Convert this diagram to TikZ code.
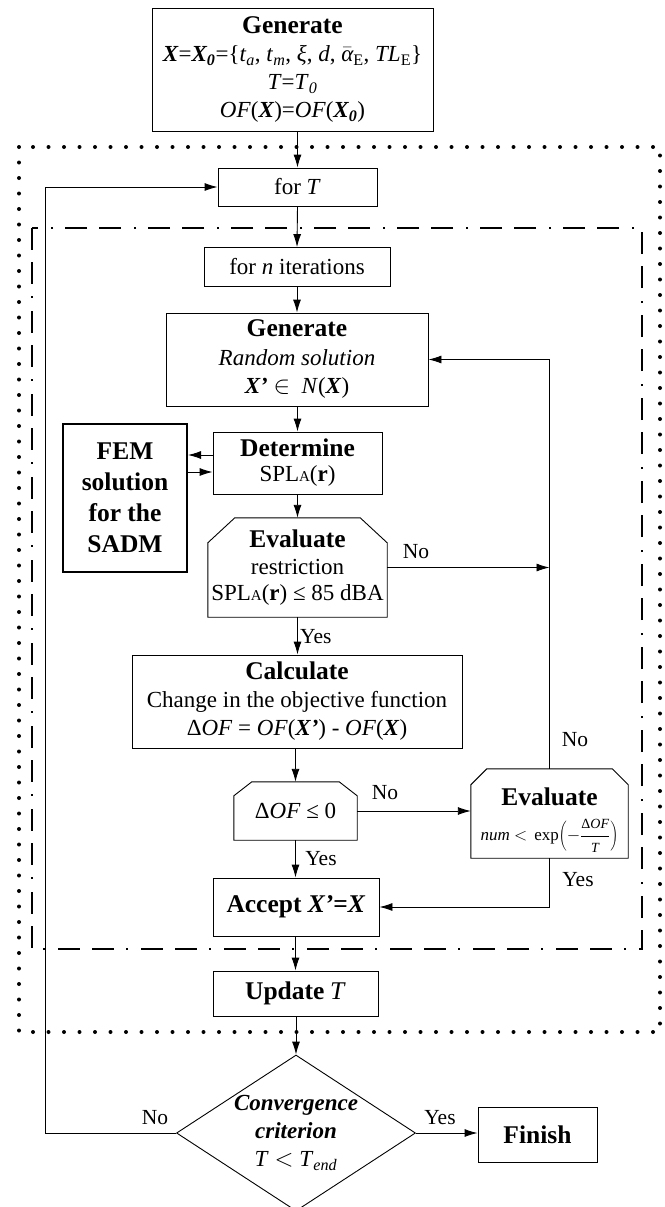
\documentclass[tikz,border=0pt]{standalone}
\usepackage{fontspec}
\setmainfont{Liberation Serif}
\usetikzlibrary{arrows.meta,calc,shapes.geometric}
\newcommand\hd[1]{{\fontsize{25.5}{28}\selectfont\bfseries #1}}
\newcommand\smA{{\fontsize{15}{15}\selectfont A}}
\newcommand\chamf[3]{\draw[conn] (#1.south west) -- ($(#1.north west)+(0,#3)$) -- ($(#1.north west)+(#2,0)$) -- ($(#1.north east)+(-#2,0)$) -- ($(#1.north east)+(0,#3)$) -- (#1.south east) -- cycle;}
\tikzset{
 box/.style={draw, line width=0.9pt, inner sep=0pt, align=center, font=\fontsize{23}{28}\selectfont},
 plain/.style={draw=none, inner sep=0pt, align=center, font=\fontsize{23}{28}\selectfont},
 arr/.style={line width=0.9pt, -{Latex[length=13pt,width=8pt]}},
 conn/.style={line width=0.9pt},
 lbl/.style={font=\fontsize{21.5}{24}\selectfont, inner sep=0pt},
 dotframe/.style={line width=4pt, line cap=round, dash pattern=on 0pt off 15.5pt},
 dashdotframe/.style={line width=2.5pt, dash pattern=on 22pt off 12pt on 22pt off 12pt on 2pt off 13pt},
}
\begin{document}
\begin{tikzpicture}[x=1pt,y=-1pt]
\useasboundingbox[fill=white] (0,0) rectangle (664,1207);

% frames
\draw[dotframe] (19,147) rectangle (660,1032);
\draw[dashdotframe] (32,228) rectangle (642,949);

% nodes
\node[box, minimum width=281pt, minimum height=123pt] (top) at (292.5,69.5)
 {\hd{Generate}\\
  \textbf{\textit{X}}=\textbf{\textit{X\textsubscript{0}}}=\{\textit{t}\textsubscript{\textit{a}}, \textit{t}\textsubscript{\textit{m}}, \textit{ξ}, \textit{d}, $\bar{\textit{α}}$\textsubscript{E}, \textit{TL}\textsubscript{E}\}\\
  \textit{T}=\textit{T}\textsubscript{\textit{0}}\\
  \textit{OF}(\textbf{\textit{X}})=\textit{OF}(\textbf{\textit{X\textsubscript{0}}})};

\node[box, minimum width=159pt, minimum height=38pt] (forT) at (297.5,187) {for \textit{T}};
\node[box, minimum width=186pt, minimum height=39pt] (forN) at (297,267) {for \textit{n} iterations};
\node[box, minimum width=262pt, minimum height=93pt] (gen) at (297,359.5)
 {\hd{Generate}\\[1pt] \textit{Random solution}\\ \textbf{\textit{X’}} $\in$\ \ \textit{N}(\textbf{\textit{X}})};
\node[box, minimum width=169pt, minimum height=62pt] (det) at (297.5,463)
 {\hd{Determine}\\[-3pt] SPL\smA(\textbf{r})};
\node[box, line width=2pt, minimum width=124pt, minimum height=148pt, font=\fontsize{25.5}{31}\selectfont\bfseries] (fem) at (125,498)
 {FEM\\solution\\for the\\SADM};
\node[plain, minimum width=179pt, minimum height=99pt] (eval) at (297.5,567.5)
 {\hd{Evaluate}\\[-1pt] restriction\\[-2pt] SPL\smA(\textbf{r}) ≤ 85 dBA};
\chamf{eval}{27}{25}
\node[box, minimum width=330pt, minimum height=93pt] (calc) at (297,701.5)
 {\hd{Calculate}\\ Change in the objective function\\ Δ\textit{OF} = \textit{OF}(\textbf{\textit{X’}}) - \textit{OF}(\textbf{\textit{X}})};
\node[plain, minimum width=123pt, minimum height=58pt] (dof) at (295.5,811) {Δ\textit{OF} ≤ 0};
\chamf{dof}{18}{14}
\node[plain, minimum width=157pt, minimum height=89pt] (eval2) at (549.5,813.5) {};
\chamf{eval2}{16}{16}
\node[plain] (eval2h) at (549.5,797) {\hd{Evaluate}};
\node[plain, font=\fontsize{17}{17}\selectfont] (eval2f) at (549.5,836)
 {\textit{num} $<$\, exp$\displaystyle\left(-\frac{\mbox{\fontsize{14}{14}\selectfont Δ\textit{OF}}}{\mbox{\fontsize{14}{14}\selectfont\textit{T}}}\right)$};
\node[box, minimum width=166pt, minimum height=58pt] (acc) at (296,907)
 {\hd{Accept \textit{X’}=\textit{X}}};
\node[box, minimum width=165pt, minimum height=45pt] (upd) at (295.5,993.5)
 {\hd{Update} {\fontsize{25.5}{28}\selectfont\textit{T}}};
\node[diamond, draw, line width=0.9pt, inner sep=0pt, minimum width=239pt, minimum height=156pt] (dia) at (296,1133) {};
\node[plain] (diat) at (296,1133)
 {\textbf{\textit{Convergence}}\\ \textbf{\textit{criterion}}\\ \textit{T} $<$ \textit{T}\textsubscript{\textit{end}}};
\node[box, minimum width=119pt, minimum height=55pt] (fin) at (537.5,1134.5) {\hd{Finish}};

\coordinate (lx) at (45,0);
\coordinate (dfa) at ($(det.west)+(0,-8)$);
\coordinate (dfb) at ($(det.west)+(0,9)$);

% connectors
\draw[arr] (top.south -| forT.north) -- (forT.north);
\draw[arr] (forT.south) -- (forN.north);
\draw[arr] (forN.south) -- (gen.north);
\draw[arr] (gen.south -| det.north) -- (det.north);
\draw[arr] (dfa) -- (dfa -| fem.east);
\draw[arr] (dfb -| fem.east) -- (dfb);
\draw[arr] (det.south) -- (eval.south |- eval.north);
\draw[arr] (eval.south) -- (eval.south |- calc.north);
\draw[arr] (eval.east) -- (eval.east -| eval2.north);
\draw[arr] (calc.south -| dof.north) -- (dof.north);
\draw[arr] (dof.east) -- (dof.east -| eval2.west);
\draw[arr] (dof.south) -- (dof.south |- acc.north);
\draw[arr] (eval2.north) |- (gen.east);
\draw[arr] (eval2.south) |- (acc.east);
\draw[arr] (acc.south -| upd.north) -- (upd.north);
\draw[arr] (upd.south -| dia.north) -- (dia.north);
\draw[arr] (dia.east) -- (dia.east -| fin.west);
\draw[arr] (dia.west) -- (dia.west -| lx) -- (forT.west -| lx) -- (forT.west);

% labels
\node[lbl] (l1) at (416,552) {No};
\node[lbl, anchor=west] (l2) at (300,637) {Yes};
\node[lbl] (l3) at (385,793) {No};
\node[lbl] (l4) at (321,859) {Yes};
\node[lbl] (l5) at (575,740) {No};
\node[lbl] (l6) at (578,880) {Yes};
\node[lbl] (l7) at (155,1118) {No};
\node[lbl] (l8) at (440,1118) {Yes};
\end{tikzpicture}
\end{document}
